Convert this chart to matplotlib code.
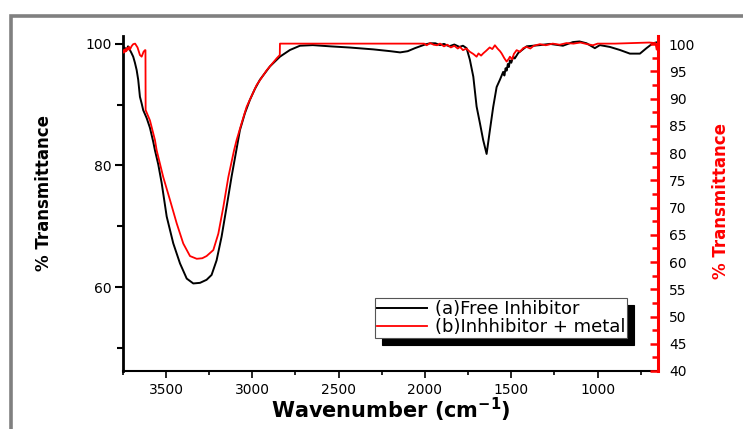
import matplotlib
matplotlib.use("Agg")
import matplotlib.pyplot as plt
from matplotlib.lines import Line2D
from matplotlib.ticker import MultipleLocator

# wavenumber (cm-1) / %T
free_wn = [3751, 3740, 3730, 3720, 3709, 3700, 3690, 3680, 3670, 3661,
           3651, 3641, 3632, 3612, 3593, 3574, 3564, 3545, 3525, 3496,
           3458, 3419, 3380, 3342, 3303, 3265, 3236, 3207, 3178, 3149,
           3120, 3092, 3072, 3043, 3014, 2985, 2956, 2898, 2840, 2782,
           2724, 2650, 2550, 2434, 2300, 2200, 2144, 2100, 2058, 2000,
           1971, 1940, 1913, 1890, 1860, 1830, 1800, 1780, 1759, 1740,
           1720, 1701, 1682, 1663, 1643, 1624, 1605, 1585, 1566, 1547,
           1540, 1533, 1527, 1520, 1514, 1508, 1500, 1489, 1480, 1460,
           1411, 1334, 1276, 1201, 1143, 1105, 1064, 1016, 987, 929,
           871, 813, 755, 717, 680, 652]
free_t = [98.6, 99.4, 98.9, 99.6, 99.0, 98.5, 97.9, 96.9, 95.7, 94.1,
          91.3, 90.2, 89.1, 87.8, 86.2, 83.9, 82.5, 80.2, 77.1, 71.6,
          67.2, 63.9, 61.4, 60.6, 60.7, 61.2, 62.0, 64.4, 68.3, 73.2,
          78.2, 82.6, 85.8, 88.6, 90.8, 92.6, 94.1, 96.3, 97.9, 99.0,
          99.7, 99.8, 99.6, 99.4, 99.1, 98.8, 98.6, 98.8, 99.3, 99.9,
          100.1, 100.1, 99.8, 100.0, 99.6, 99.9, 99.5, 99.7, 99.3, 97.4,
          94.6, 89.7, 87.0, 84.2, 81.9, 85.8, 89.6, 92.9, 94.1, 95.4,
          94.8, 96.0, 95.6, 96.7, 96.2, 97.3, 96.9, 97.9, 97.6, 98.5,
          99.6, 99.8, 100.0, 99.7, 100.3, 100.4, 100.1, 99.3, 99.8, 99.5,
          99.0, 98.4, 98.4, 99.3, 100.1, 100.3]

metal_wn = [3751, 3745, 3740, 3735, 3730, 3725, 3720, 3714, 3709, 3700,
            3690, 3679, 3665, 3651, 3641, 3630, 3622, 3619, 3618, 3593,
            3564, 3554, 3516, 3477, 3438, 3400, 3361, 3322, 3290, 3265,
            3226, 3197, 3168, 3139, 3106, 3091, 3062, 3033, 2975, 2917,
            2859, 2841, 2840, 2005, 1990, 1970, 1950, 1930, 1913, 1890,
            1870, 1850, 1830, 1810, 1797, 1780, 1760, 1740, 1720, 1701,
            1690, 1675, 1663, 1645, 1625, 1610, 1595, 1580, 1565, 1556,
            1540, 1527, 1515, 1508, 1495, 1485, 1469, 1450, 1430, 1411,
            1390, 1370, 1334, 1300, 1260, 1220, 1180, 1140, 1100, 1060,
            1027, 1000, 900, 800, 700, 665, 658, 652]
metal_t = [98.4, 98.9, 98.5, 99.1, 98.7, 99.3, 99.0, 99.5, 99.0, 99.6,
           100.0, 100.1, 99.4, 98.0, 97.7, 98.6, 98.9, 98.9, 87.9, 86.0,
           82.4, 80.5, 75.6, 71.4, 67.1, 63.4, 61.1, 60.6, 60.7, 61.1,
           62.2, 65.2, 70.1, 75.6, 80.5, 82.4, 85.5, 88.5, 92.5, 95.2,
           97.4, 98.0, 100.1, 100.1, 99.8, 100.2, 99.9, 99.8, 100.1, 99.6,
           99.9, 99.4, 99.7, 99.2, 99.5, 98.9, 99.2, 98.6, 98.2, 97.7,
           98.3, 97.9, 98.3, 98.8, 99.4, 99.1, 99.8, 99.2, 98.7, 98.3,
           97.4, 96.8, 97.3, 97.7, 97.2, 98.2, 98.9, 98.6, 99.3, 99.5,
           99.2, 99.7, 100.0, 99.8, 100.1, 99.9, 100.2, 100.1, 100.3, 100.0,
           99.8, 100.1, 100.1, 100.2, 100.3, 100.2, 99.0, 100.0]

series_labels = ["(a)Free Inhibitor", "(b)Inhhibitor + metal"]

plt.rcParams["font.family"] = ["DejaVu Sans"]

fig = plt.figure(figsize=(7.43, 4.29), dpi=100)
fig.patch.set_facecolor("white")

# grey frame around the plot (top and left edges only visible)
fig.add_artist(Line2D([0.0148, 0.0148, 1.0], [0.0, 0.9627, 0.9627], transform=fig.transFigure,
                      color="#808080", linewidth=2.6, solid_joinstyle="miter"))

ax = fig.add_axes([0.1651, 0.1352, 0.7201, 0.7809])
ax2 = ax.twinx()

ax.plot(free_wn, free_t, color="black", linewidth=1.4)
ax2.plot(metal_wn, metal_t, color="red", linewidth=1.3)

ax.set_xlim(3751, 652)
ax.set_ylim(46.2, 101.3)
ax2.set_ylim(40, 101.5)

ax.xaxis.set_major_locator(MultipleLocator(500))
ax.xaxis.set_minor_locator(MultipleLocator(250))
ax.yaxis.set_major_locator(MultipleLocator(20))
ax.yaxis.set_minor_locator(MultipleLocator(10))
ax2.yaxis.set_major_locator(MultipleLocator(5))
ax2.yaxis.set_minor_locator(MultipleLocator(2.5))

for side in ["top", "right"]:
    ax.spines[side].set_visible(False)
for side in ["top", "left", "bottom"]:
    ax2.spines[side].set_visible(False)
ax.spines["left"].set_linewidth(2.0)
ax.spines["bottom"].set_linewidth(1.5)
ax2.spines["right"].set_linewidth(2.2)
ax2.spines["right"].set_color("red")

ax.tick_params(axis="y", which="major", direction="out", length=6, width=1.5, labelsize=10, pad=2)
ax.tick_params(axis="y", which="minor", direction="out", length=4, width=1.5)
ax.tick_params(axis="x", which="major", direction="out", length=5, width=1.2, labelsize=10, pad=4)
ax.tick_params(axis="x", which="minor", direction="out", length=3, width=1.2)
ax2.tick_params(axis="y", which="major", direction="in", length=6, width=1.8, color="red",
                labelsize=10, pad=8)
ax2.tick_params(axis="y", which="minor", direction="in", length=4, width=1.8, color="red")

ax.set_xlabel(r"Wavenumber (cm$^{\mathbf{-1}}$)", fontsize=15, fontweight="bold")
ax.xaxis.set_label_coords(0.5015, -0.075)
ax.set_ylabel("% Transmittance", fontsize=12, fontweight="bold")
ax.yaxis.set_label_coords(-0.13, 0.531)
ax2.set_ylabel("% Transmittance", fontsize=12, fontweight="bold", color="red")
ax2.yaxis.set_label_coords(1.1015, 0.507)

handles = [Line2D([0], [0], color="black", linewidth=1.4),
           Line2D([0], [0], color="red", linewidth=1.3)]
leg = ax2.legend(handles, series_labels, loc="lower left", bbox_to_anchor=(0.4716, 0.0985),
                 fontsize=13, frameon=True, fancybox=False,
                 shadow={"ox": 5, "oy": -5, "color": "black", "alpha": 1},
                 borderpad=0.1, labelspacing=0.0, handlelength=2.8, handletextpad=0.4,
                 borderaxespad=0.0)
leg.get_frame().set_edgecolor("#555555")
leg.get_frame().set_linewidth(0.8)

fig.savefig("out.png", dpi=100)
